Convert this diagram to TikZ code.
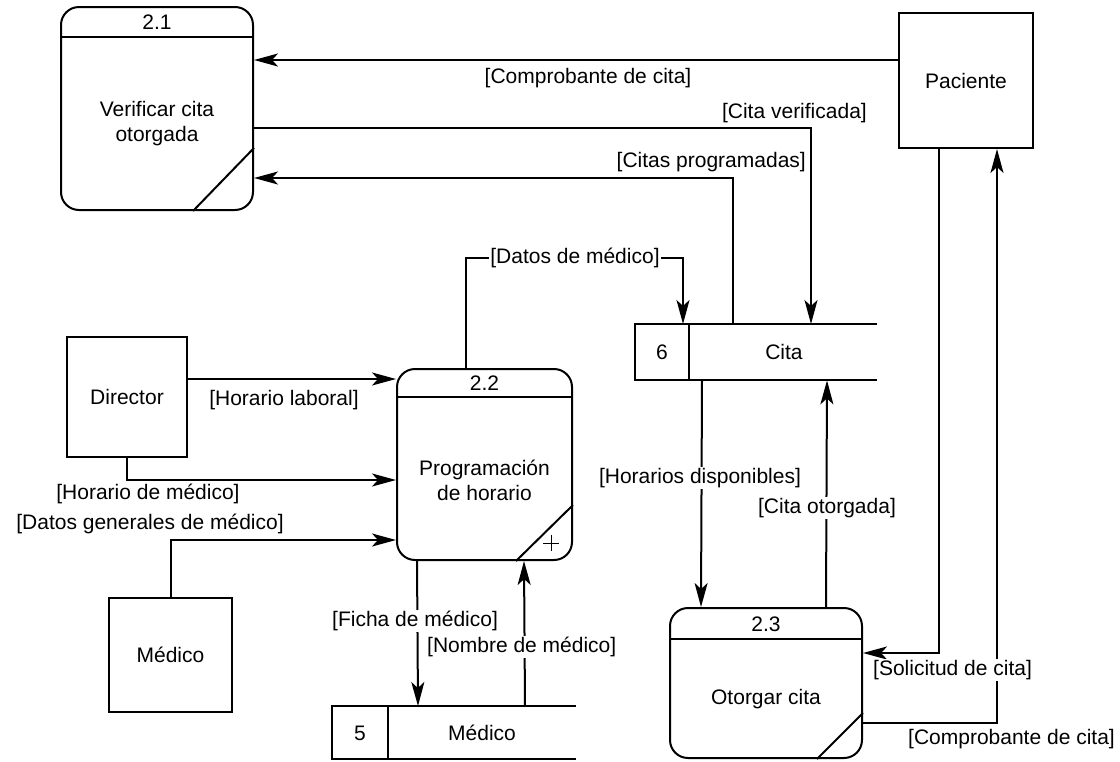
\documentclass[tikz,border=0pt]{standalone}
\usepackage{fontspec}
\setmainfont{Liberation Sans}
\usetikzlibrary{arrows.meta,calc}
\begin{document}
\begin{tikzpicture}[x=1pt,y=-1pt,
  every node/.style={font=\fontsize{21}{25}\selectfont, inner sep=1pt},
  ln/.style={line width=2pt},
  arr/.style={ln, -{Stealth[length=24pt,width=13pt,inset=6pt]}},
  proc/.style={draw, ln, rounded corners=18pt, inner sep=0pt},
  ent/.style={draw, ln, inner sep=0pt},
  store/.style={draw=none, inner sep=0pt, anchor=north west},
  lbl/.style={fill=white, inner sep=1pt}
]
\path[use as bounding box] (0,0) rectangle (1120,761);

% processes
\node[proc, minimum width=192pt, minimum height=203pt] (p21) at (157,108.5) {};
\node[proc, minimum width=175pt, minimum height=191pt] (p22) at (484.5,464.5) {};
\node[proc, minimum width=192pt, minimum height=150pt] (p23) at (766,683) {};
\draw[ln] ([yshift=-31pt]p21.north west) -- ([yshift=-31pt]p21.north east);
\draw[ln] ([yshift=-29pt]p22.north west) -- ([yshift=-29pt]p22.north east);
\draw[ln] ([yshift=-32pt]p23.north west) -- ([yshift=-32pt]p23.north east);
\draw[ln] ([yshift=63pt]p21.south east) -- ([xshift=-61pt]p21.south east);
\draw[ln] ([yshift=56pt]p22.south east) -- ([xshift=-57pt]p22.south east);
\draw[ln] ([yshift=46pt]p23.south east) -- ([xshift=-46pt]p23.south east);
\draw[line width=0.9pt] (543,543) -- (559,543) (551,535) -- (551,551);
\node (n21) at (157,22.5) {2.1};
\node (n22) at (484.5,383) {2.2};
\node (n23) at (766,624) {2.3};
\node[align=center] (t21) at (157,124) {Verificar cita\\otorgada};
\node[align=center] (t22) at (484.5,480) {Programación\\de horario};
\node (t23) at (766,699) {Otorgar cita};

% entities
\node[ent, minimum width=134pt, minimum height=135pt] (pac) at (966,80.5) {Paciente};
\node[ent, minimum width=120pt, minimum height=120pt] (dir) at (127,397) {Director};
\node[ent, minimum width=123pt, minimum height=114pt] (med) at (170.5,655) {Médico};

% data stores
\node[store, minimum width=242pt, minimum height=56pt] (cita) at (635,324) {};
\draw[ln] (cita.north east) -- (cita.north west) -- (cita.south west) -- (cita.south east);
\draw[ln] ($(cita.north west)+(54,0)$) -- ($(cita.south west)+(54,0)$);
\node (c6) at (662,352) {6};
\node (cname) at (784,352) {Cita};

\node[store, minimum width=244pt, minimum height=53pt] (ms) at (332,706) {};
\draw[ln] (ms.north east) -- (ms.north west) -- (ms.south west) -- (ms.south east);
\draw[ln] ($(ms.north west)+(56,0)$) -- ($(ms.south west)+(56,0)$);
\node (m5) at (360,733) {5};
\node (mname) at (482,733) {Médico};

% flows
\draw[arr] (pac.west |- 0,60) -- (p21.east |- 0,60);
\node (l1) at (588,78) {[Comprobante de cita]};

\draw[arr] (p21.east |- 0,128) -| ($(cita.north west)+(176,0)$);
\node[anchor=east] (l2) at (868,113) {[Cita verificada]};

\draw[arr] ($(cita.north west)+(98,0)$) |- (p21.east |- 0,178);
\node[anchor=east] (l3) at (807,162) {[Citas programadas]};

\draw[arr] ($(p22.north west)+(70,0)$) |- ($(cita.north west)+(48,-66)$) -- ($(cita.north west)+(48,0)$);
\node[lbl] (l4) at (575,258) {[Datos de médico]};

\draw[arr] (dir.east |- 0,379) -- (p22.west |- 0,379);
\node (l5) at (284,400) {[Horario laboral]};

\draw[arr] (dir.south) |- (p22.west |- 0,480);
\node (l6) at (148,494) {[Horario de médico]};

\draw[arr] (med.north) |- (p22.west |- 0,540);
\node (l7) at (150,524) {[Datos generales de médico]};

\draw[arr] ($(p22.south west)+(21,0)$) -- ($(ms.north west)+(86,0)$);
\node[lbl, anchor=west] (l8) at (331,621) {[Ficha de médico]};

\draw[arr] ($(ms.north west)+(193,0)$) -- ($(p22.south west)+(128,0)$);
\node[lbl, anchor=west] (l9) at (426,647) {[Nombre de médico]};

\draw[arr] ($(cita.south west)+(67,0)$) -- ($(p23.north west)+(32,0)$);
\node[lbl] (l10) at (700,478) {[Horarios disponibles]};

\draw[arr] ($(p23.north west)+(157,0)$) -- ($(cita.south west)+(192,0)$);
\node[lbl] (l11) at (827,508) {[Cita otorgada]};

\draw[arr] ($(pac.south west)+(41,0)$) |- (p23.east |- 0,653);
\draw[arr] (p23.east |- 0,723) -| ($(pac.south west)+(99,0)$);
\node[lbl, anchor=west] (l12) at (872,670) {[Solicitud de cita]};
\node[anchor=west] (l13) at (907,739) {[Comprobante de cita]};
\end{tikzpicture}
\end{document}
